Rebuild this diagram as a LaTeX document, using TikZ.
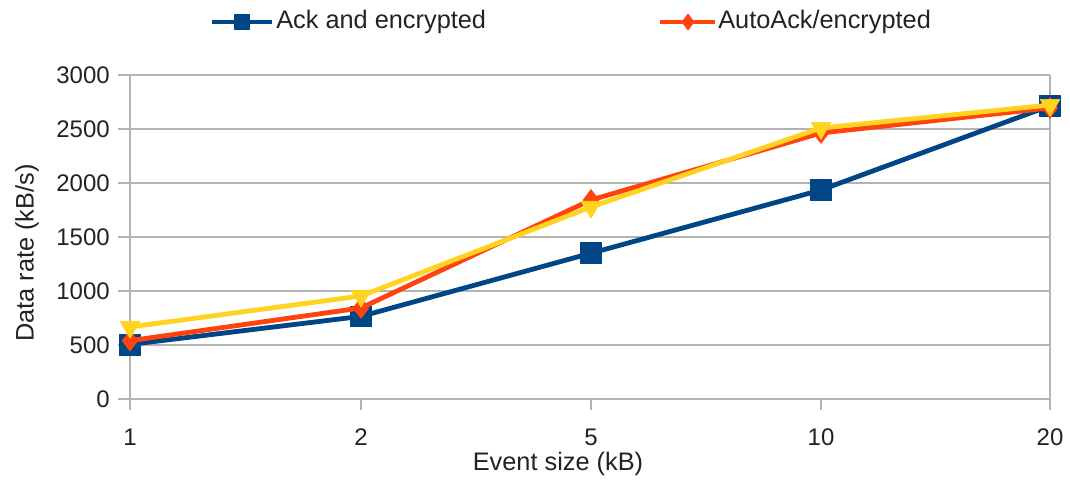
\documentclass[tikz,border=0pt]{standalone}
\usepackage{fontspec}
\setmainfont{Liberation Sans}
\usetikzlibrary{plotmarks}
\definecolor{serA}{HTML}{004586}
\definecolor{serB}{HTML}{FF420E}
\definecolor{serC}{HTML}{FFD320}
\definecolor{gridc}{HTML}{B3B3B3}
\definecolor{txt}{HTML}{222222}
\tikzset{
  gridline/.style={draw=gridc, line width=1.4pt},
  series/.style={line width=3.6pt, line join=round},
  ticklab/.style={font=\fontsize{18}{20}\selectfont, text=txt, inner sep=0pt},
  axlab/.style={font=\fontsize{19}{22}\selectfont, text=txt, inner sep=0pt},
}
\begin{document}
\begin{tikzpicture}[x=0.75pt,y=-0.75pt]
\useasboundingbox (0,0) rectangle (1070,481);
% horizontal grid lines with y tick labels
\foreach \v in {0,500,...,3000} {
  \draw[gridline] (118,{399-0.108*\v}) -- (1050,{399-0.108*\v});
  \node[ticklab, anchor=east] at (110,{399-0.108*\v}) {\v};
}
% axis line and right frame
\draw[gridline] (130,75) -- (130,410);
\draw[gridline] (1050,75) -- (1050,410);
% x ticks and labels
\foreach \x/\l in {130/1,361/2,591/5,821/10,1050/20} {
  \draw[gridline] (\x,399) -- (\x,410);
  \node[ticklab] at (\x,437) {\l};
}
% axis titles
\node[axlab] (xt) at (558,464) {Event size (kB)};
\node[axlab, rotate=90] (yt) at (27,253) {Data rate (kB/s)};
% data series
\draw[series, serA] plot[mark=square*, mark size=7.8pt, mark options={line width=0.5pt, fill=serA}]
  coordinates {(130,{399-0.108*505}) (361,{399-0.108*765}) (591,{399-0.108*1350}) (821,{399-0.108*1935}) (1050,{399-0.108*2715})};
\draw[series, serB] plot[mark=diamond*, mark size=7.8pt, mark options={line width=0.5pt, fill=serB}]
  coordinates {(130,{399-0.108*540}) (361,{399-0.108*843}) (591,{399-0.108*1843}) (821,{399-0.108*2463}) (1050,{399-0.108*2695})};
\draw[series, serC] plot[mark=triangle*, mark size=8.5pt, mark options={line width=0.5pt, fill=serC, rotate=180}]
  coordinates {(130,{399-0.108*667}) (361,{399-0.108*954}) (591,{399-0.108*1778}) (821,{399-0.108*2509}) (1050,{399-0.108*2722})};
% legend
\draw[series, serA] plot[mark=square*, mark size=5.5pt, mark options={line width=0.5pt, fill=serA}, mark indices={2}]
  coordinates {(212,22) (242,22) (272,22)};
\node[axlab, anchor=west] (la) at (276,22) {Ack and encrypted};
\draw[series, serB] plot[mark=diamond*, mark size=6pt, mark options={line width=0.5pt, fill=serB}, mark indices={2}]
  coordinates {(660,22) (688,22) (715,22)};
\node[axlab, anchor=west] (lb) at (718,22) {AutoAck/encrypted};
\end{tikzpicture}
\end{document}
